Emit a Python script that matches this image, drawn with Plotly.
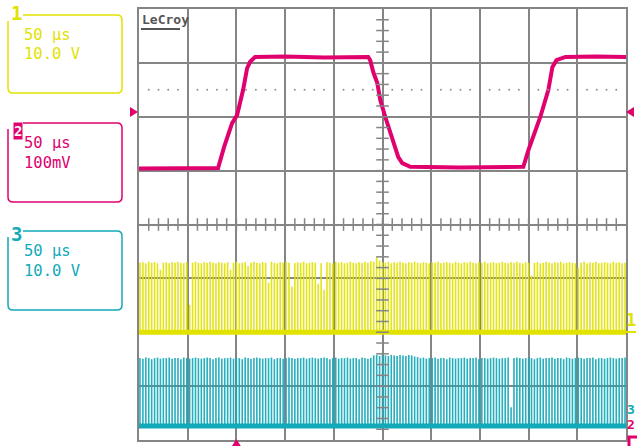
import plotly.graph_objects as go

# --- channel 2 (pink), 100 mV/div, time in us ---
ch2_t_us = [-250, -200, -168.8, -162.6, -154.4, -149.3, -143.1, -139.0, -135.9, -130.8,
            -100, -60, -14.7, -12.6, -9.5, -5.4, -2.3, 2.8, 10.0, 16.2, 20.3, 28.5,
            80, 144.6, 149.8, 162.1, 170.3, 174.4, 178.6, 187.8, 220, 250]
ch2_mv = [104, 105, 105, 144, 188, 203, 250, 290, 302, 311,
          312, 310, 311, 305, 283, 263, 231, 200, 157, 125, 114, 107,
          106, 107, 138, 200, 250, 292, 305, 311, 312, 311]

# --- switching pulses on channel 1 (yellow) and channel 3 (teal), 10 V/div ---
pulse_t_us = [
    -249, -246, -243, -240, -237, -234, -231, -228, -225, -222,
    -219, -216, -213, -210, -207, -204, -201, -198, -195, -192,
    -189, -186, -183, -180, -177, -174, -171, -168, -165, -162,
    -159, -156, -153, -150, -147, -144, -141, -138, -135, -132,
    -129, -126, -123, -120, -117, -114, -111, -108, -105, -102,
    -99, -96, -93, -90, -87, -84, -81, -78, -75, -72,
    -69, -66, -63, -60, -57, -54, -51, -48, -45, -42,
    -39, -36, -33, -30, -27, -24, -21, -18, -15, -12,
    -9, -6, -3, 0, 3, 6, 9, 12, 15, 18,
    21, 24, 27, 30, 33, 36, 39, 42, 45, 48,
    51, 54, 57, 60, 63, 66, 69, 72, 75, 78,
    81, 84, 87, 90, 93, 96, 99, 102, 105, 108,
    111, 114, 117, 120, 123, 126, 129, 132, 135, 138,
    141, 144, 147, 150, 153, 156, 159, 162, 165, 168,
    171, 174, 177, 180, 183, 186, 189, 192, 195, 198,
    201, 204, 207, 210, 213, 216, 219, 222, 225, 228,
    231, 234, 237, 240, 243, 246, 249]

ch1_peak_v = [
    12.9, 13.0, 12.8, 13.1, 12.9, 13.0, 12.8, 11.6, 12.9, 13.0,
    12.8, 13.0, 12.9, 13.1, 12.9, 12.8, 13.0, 5.1, 12.9, 13.1,
    12.9, 12.8, 13.0, 12.9, 13.1, 12.9, 12.8, 13.0, 12.9, 12.8,
    13.0, 11.6, 12.9, 13.1, 12.8, 12.9, 13.0, 12.3, 12.9, 13.1,
    12.9, 12.8, 13.0, 12.9, 9.2, 13.1, 12.9, 12.8, 13.0, 12.9,
    13.1, 12.9, 8.5, 12.8, 13.0, 12.9, 13.1, 12.8, 12.9, 13.0,
    12.9, 9.0, 12.8, 7.9, 13.0, 12.9, 12.8, 13.1, 12.9, 13.0,
    12.8, 12.9, 13.1, 12.9, 12.8, 13.0, 12.9, 13.1, 12.9, 13.2,
    13.1, 14.0, 13.3, 13.0, 12.9, 13.1, 12.8, 13.0, 12.9, 13.1,
    12.9, 12.8, 13.0, 12.9, 13.1, 12.9, 12.8, 13.0, 12.9, 12.8,
    13.0, 12.9, 13.1, 12.8, 12.9, 13.0, 12.9, 12.8, 13.1, 12.9,
    12.8, 13.0, 12.9, 13.1, 12.9, 12.8, 13.0, 12.9, 13.1, 12.8,
    12.9, 13.0, 12.8, 12.9, 13.1, 12.9, 12.8, 13.0, 12.9, 13.1,
    12.9, 12.8, 13.0, 12.9, 10.5, 12.9, 13.0, 12.8, 12.9, 13.1,
    12.9, 12.8, 13.0, 12.9, 13.1, 12.8, 12.9, 13.0, 12.9, 12.8,
    12.0, 12.9, 13.1, 12.8, 13.0, 12.9, 13.1, 12.8, 12.9, 13.0,
    12.9, 12.8, 13.1, 12.9, 13.0, 12.8, 12.9]

ch3_peak_v = [
    12.6, 12.5, 12.7, 12.6, 12.4, 12.6, 12.7, 12.5, 12.6, 12.6,
    12.7, 12.5, 12.6, 12.6, 12.4, 12.7, 12.6, 12.5, 12.6, 12.7,
    12.6, 12.5, 12.6, 12.7, 12.6, 12.4, 12.6, 12.7, 12.5, 12.6,
    12.6, 12.7, 12.5, 12.6, 12.6, 12.4, 12.7, 12.6, 12.5, 12.6,
    12.7, 12.6, 12.5, 12.6, 12.6, 12.7, 12.4, 12.6, 12.6, 12.5,
    12.6, 12.7, 12.6, 12.5, 12.6, 12.6, 12.7, 12.5, 12.6, 12.7,
    12.6, 12.5, 12.6, 12.7, 12.6, 12.4, 12.6, 12.7, 12.5, 12.6,
    12.6, 12.7, 12.5, 12.6, 12.6, 12.4, 12.7, 12.6, 12.5, 12.6,
    13.1, 13.2, 13.0, 13.2, 13.1, 13.0, 13.2, 13.1, 13.0, 13.2,
    13.1, 13.0, 13.2, 13.1, 12.9, 12.8, 12.6, 12.7, 12.5, 12.6,
    12.6, 12.7, 12.5, 12.6, 12.6, 12.4, 12.7, 12.6, 12.5, 12.6,
    12.6, 12.7, 12.5, 12.6, 12.6, 12.7, 12.4, 12.6, 12.6, 12.5,
    12.6, 12.7, 12.6, 12.5, 12.6, 12.6, 12.7, 3.5, 12.6, 12.7,
    12.6, 12.5, 12.6, 12.7, 12.6, 12.4, 12.6, 12.7, 12.5, 12.6,
    12.6, 12.7, 12.5, 12.6, 12.6, 12.4, 12.7, 12.6, 12.5, 12.6,
    12.7, 12.6, 12.5, 12.6, 12.6, 12.7, 12.4, 12.6, 12.6, 12.5,
    12.6, 12.7, 12.6, 12.5, 12.6, 12.6, 12.7]

trigger_t_us = -150

# channel settings: volts per div and screen offset (div)
CH1_VDIV, CH1_OFS = 10.0, -2.0
CH2_VDIV, CH2_OFS = 100.0, 0.0
CH3_VDIV, CH3_OFS = 10.0, -3.74

YELLOW = "#e2e200"
PINK = "#e0006e"
TEAL = "#12a9b9"
GRID = "#858585"
MONO = "DejaVu Sans Mono"

W, H = 641, 446
L, R, T, B = 139, 15, 9, 6
PW, PH = W - L - R, H - T - B


def px(x):
    return (x - L) / PW


def py(y):
    return (H - B - y) / PH


def pulse_xy(ts, vs, vdiv, ofs):
    xs, ys = [], []
    for t, v in zip(ts, vs):
        xs += [t, t, None]
        ys += [ofs, ofs + v / vdiv, None]
    return xs, ys


fig = go.Figure()

# channel 1
x1, y1 = pulse_xy(pulse_t_us, ch1_peak_v, CH1_VDIV, CH1_OFS)
fig.add_trace(go.Scatter(x=x1, y=y1, mode="lines",
                         line=dict(color=YELLOW, width=1.6), opacity=0.92))
fig.add_trace(go.Scatter(x=[-250, 250], y=[CH1_OFS, CH1_OFS], mode="lines",
                         line=dict(color=YELLOW, width=5)))

# channel 3
x3, y3 = pulse_xy(pulse_t_us, ch3_peak_v, CH3_VDIV, CH3_OFS)
fig.add_trace(go.Scatter(x=x3, y=y3, mode="lines",
                         line=dict(color=TEAL, width=1.6), opacity=0.92))
fig.add_trace(go.Scatter(x=[-250, 250], y=[CH3_OFS, CH3_OFS], mode="lines",
                         line=dict(color=TEAL, width=5)))

# channel 2
fig.add_trace(go.Scatter(x=ch2_t_us, y=[m / CH2_VDIV + CH2_OFS for m in ch2_mv],
                         mode="lines", line=dict(color=PINK, width=4)))

# center cross minor ticks
fig.add_trace(go.Scatter(x=[0] * 39, y=[-4 + 0.2 * k for k in range(1, 40)],
                         mode="markers", marker=dict(symbol="line-ew", size=9,
                                                     line=dict(color=GRID, width=1.5))))
fig.add_trace(go.Scatter(x=[-250 + 10 * k for k in range(1, 50)], y=[0] * 49,
                         mode="markers", marker=dict(symbol="line-ns", size=9,
                                                     line=dict(color=GRID, width=1.5))))
# dotted level line
dots = [-250 + 10 * k for k in range(1, 50) if k % 5]
fig.add_trace(go.Scatter(x=dots, y=[2.5] * len(dots), mode="markers",
                         marker=dict(size=2, color="#909090")))

shapes = []
annotations = []

# trigger position marker under the grid
shapes.append(dict(type="path", xref="x", yref="paper", fillcolor=PINK, line=dict(width=0),
                   path=(f"M{trigger_t_us - 4.5},{py(446)} L{trigger_t_us},{py(439)} "
                         f"L{trigger_t_us + 4.5},{py(446)} Z")))


def note(x, y, text, size, color, xanchor="center", **kw):
    annotations.append(dict(x=px(x), y=py(y), xref="paper", yref="paper",
                            xanchor=xanchor, yanchor="middle", text=text, showarrow=False,
                            font=dict(family=MONO, size=size, color=color), **kw))


def box(y0, y1, color, label, label_y, filled=False):
    x0, x1, r = 8, 122, 5
    path = (f"M{px(23)},{py(y0)} L{px(x1 - r)},{py(y0)} "
            f"Q{px(x1)},{py(y0)} {px(x1)},{py(y0 + r)} "
            f"L{px(x1)},{py(y1 - r)} Q{px(x1)},{py(y1)} {px(x1 - r)},{py(y1)} "
            f"L{px(x0 + r)},{py(y1)} Q{px(x0)},{py(y1)} {px(x0)},{py(y1 - r)} "
            f"L{px(x0)},{py(y0 + 6)}")
    shapes.append(dict(type="path", xref="paper", yref="paper", path=path,
                       line=dict(color=color, width=1.5)))
    if filled:
        note(18, label_y, f"<b>{label}</b>", 14, "white", bgcolor=color, borderpad=0)
    else:
        note(16.5, label_y, f"<b>{label}</b>", 19, color)


box(15, 93, YELLOW, "1", 13)
note(22, 34.5, "50 µs", 15.5, YELLOW, xanchor="left")
note(22, 54.5, "10.0 V", 15.5, YELLOW, xanchor="left")
box(123, 202, PINK, "2", 130.5, filled=True)
note(22, 143, "50 µs", 15.5, PINK, xanchor="left")
note(22, 163, "100mV", 15.5, PINK, xanchor="left")
box(231, 310, TEAL, "3", 234)
note(22, 251, "50 µs", 15.5, TEAL, xanchor="left")
note(22, 271, "10.0 V", 15.5, TEAL, xanchor="left")

# LeCroy logo
note(140, 20, "<b>LeCroy</b>", 13, "#555555", xanchor="left")
shapes.append(dict(type="line", xref="paper", yref="paper", x0=px(141), x1=px(180),
                   y0=py(29), y1=py(29), line=dict(color="#555555", width=2)))

# pink level arrows
shapes.append(dict(type="path", xref="paper", yref="paper", fillcolor=PINK,
                   line=dict(width=0),
                   path=f"M{px(130)},{py(107)} L{px(138)},{py(112)} L{px(130)},{py(117)} Z"))
shapes.append(dict(type="path", xref="paper", yref="paper", fillcolor=PINK,
                   line=dict(width=0),
                   path=f"M{px(634)},{py(107)} L{px(626)},{py(112)} L{px(634)},{py(117)} Z"))

# right side ground markers
note(630.5, 320, "<b>1</b>", 17, YELLOW)
shapes.append(dict(type="line", xref="paper", yref="paper", x0=px(626), x1=px(636),
                   y0=py(332), y1=py(332), line=dict(color=YELLOW, width=2)))
note(630.5, 409, "<b>3</b>", 13, TEAL)
note(630.5, 424, "<b>2</b>", 13, PINK)
shapes.append(dict(type="path", xref="paper", yref="paper", line=dict(color=PINK, width=3),
                   path=f"M{px(629)},{py(446)} L{px(629)},{py(437)} L{px(637)},{py(437)}"))

axis_common = dict(showgrid=True, gridcolor=GRID, gridwidth=2, showline=True, mirror=True,
                   linecolor=GRID, linewidth=2, showticklabels=False, ticks="",
                   zeroline=False, fixedrange=True)

fig.update_layout(
    width=W, height=H,
    margin=dict(l=L, r=R, t=T, b=B),
    paper_bgcolor="white", plot_bgcolor="white",
    showlegend=False,
    xaxis=dict(range=[-250, 250], dtick=50, tick0=0, **axis_common),
    yaxis=dict(range=[-4, 4], dtick=1, tick0=0, **axis_common),
    shapes=shapes,
    annotations=annotations,
)

fig.write_html("out.html", config={"displayModeBar": False},
               post_script="document.body.style.margin='0';")
